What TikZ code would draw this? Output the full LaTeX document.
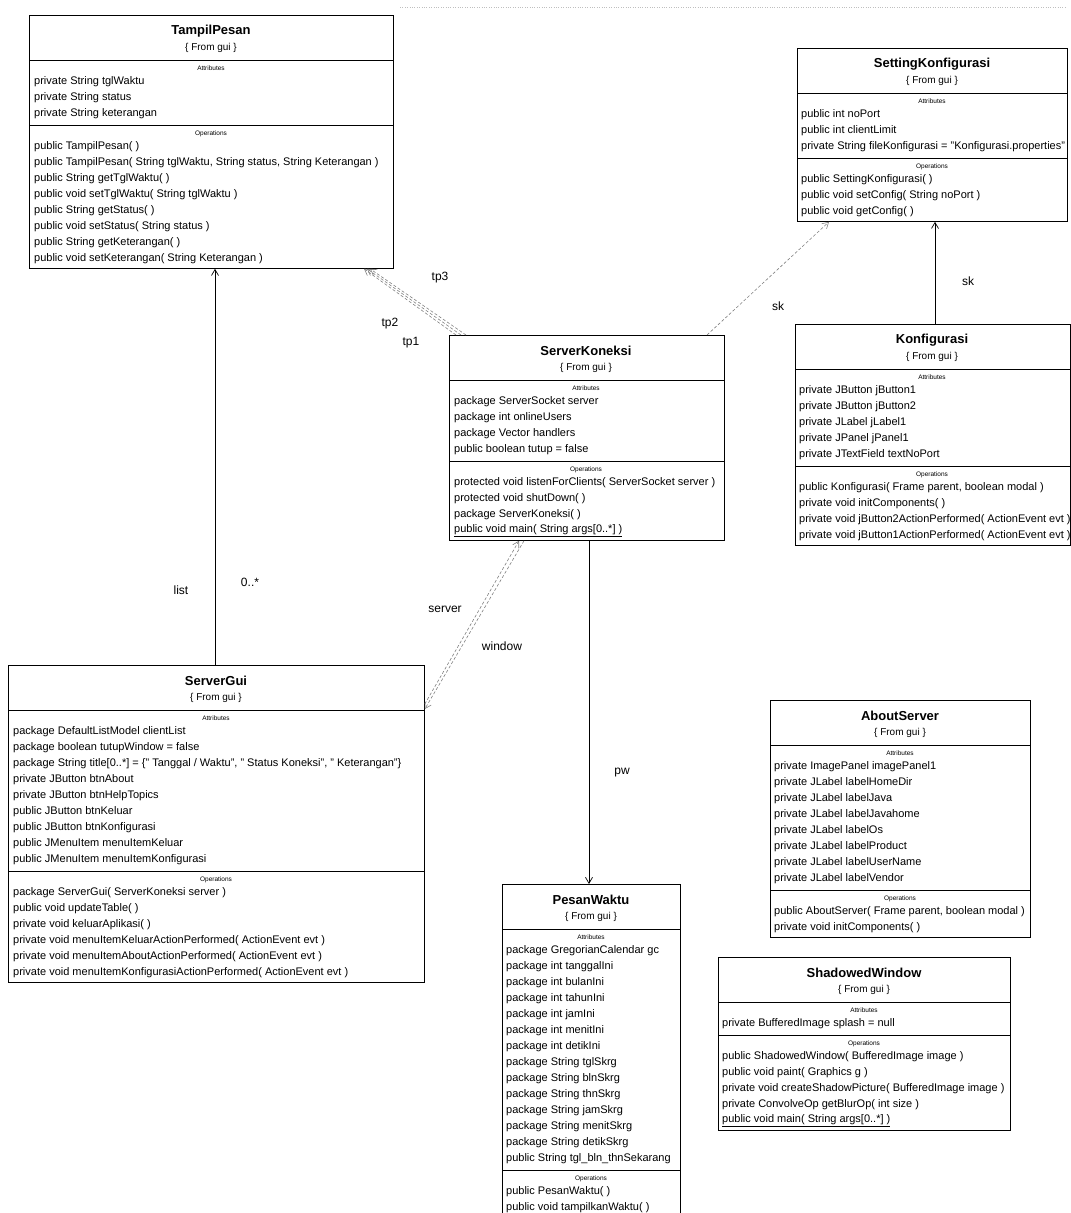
\documentclass[tikz,border=0pt]{standalone}
\usepackage{fontspec}
\setmainfont{Liberation Sans}
\usetikzlibrary{arrows.meta}

\begin{document}
\begin{tikzpicture}[x=1pt, y=-1pt, >={Straight Barb[length=6pt,width=7pt]},
	kelas/.style={draw, line width=0.8pt, anchor=north west, inner sep=0pt},
	sekat/.style={line width=0.6pt},
	judul/.style={font=\bfseries\fontsize{13}{15}\selectfont, inner sep=0pt},
	asal/.style={font=\fontsize{10}{12}\selectfont, inner sep=0pt},
	bagian/.style={font=\fontsize{6.5}{8}\selectfont, inner sep=0pt},
	baris/.style={font=\fontsize{11}{13}\selectfont, anchor=west, inner sep=0pt},
	peran/.style={font=\fontsize{12}{14}\selectfont, inner sep=0pt},
	asosiasi/.style={line width=0.7pt},
	putus/.style={line width=0.6pt, gray, dash pattern=on 3pt off 2pt}]
	\useasboundingbox (0,0) rectangle (1071,1213);
	\clip (0,0) rectangle (1071,1213);
	
	% garis tipis di tepi atas (hasil scan)
	\draw[gray!50, dotted] (400,7) -- (1065,7);
	
	% TampilPesan
	\node[kelas, minimum width=364pt, minimum height=253pt] (tp) at (29,15) {};
	\node[judul] (tp-n) at (211,31) {TampilPesan};
	\node[asal] (tp-g) at (211,48) {\{ From gui \}};
	\draw[sekat] (29,60) -- (393,60);
	\node[bagian] (tp-ba) at (211,68) {Attributes};
	\node[baris] (tp-a1) at (34,82) {private String tglWaktu};
	\node[baris] (tp-a2) at (34,98) {private String status};
	\node[baris] (tp-a3) at (34,114) {private String keterangan};
	\draw[sekat] (29,125) -- (393,125);
	\node[bagian] (tp-bo) at (211,134) {Operations};
	\node[baris] (tp-o1) at (34,147) {public TampilPesan( )};
	\node[baris] (tp-o2) at (34,163) {public TampilPesan( String tglWaktu, String status, String Keterangan )};
	\node[baris] (tp-o3) at (34,179) {public String getTglWaktu( )};
	\node[baris] (tp-o4) at (34,195) {public void setTglWaktu( String tglWaktu )};
	\node[baris] (tp-o5) at (34,211) {public String getStatus( )};
	\node[baris] (tp-o6) at (34,227) {public void setStatus( String status )};
	\node[baris] (tp-o7) at (34,243) {public String getKeterangan( )};
	\node[baris] (tp-o8) at (34,259) {public void setKeterangan( String Keterangan )};
	
	% SettingKonfigurasi
	\node[kelas, minimum width=270pt, minimum height=173pt] (setk) at (797,48) {};
	\node[judul] (setk-n) at (932,64) {SettingKonfigurasi};
	\node[asal] (setk-g) at (932,81) {\{ From gui \}};
	\draw[sekat] (797,93) -- (1067,93);
	\node[bagian] (setk-ba) at (932,101) {Attributes};
	\node[baris] (setk-a1) at (801,115) {public int noPort};
	\node[baris] (setk-a2) at (801,131) {public int clientLimit};
	\node[baris] (setk-a3) at (801,147) {private String fileKonfigurasi = "Konfigurasi.properties"};
	\draw[sekat] (797,158) -- (1067,158);
	\node[bagian] (setk-bo) at (932,167) {Operations};
	\node[baris] (setk-o1) at (801,180) {public SettingKonfigurasi( )};
	\node[baris] (setk-o2) at (801,196) {public void setConfig( String noPort )};
	\node[baris] (setk-o3) at (801,212) {public void getConfig( )};
	
	% Konfigurasi
	\node[kelas, minimum width=275pt, minimum height=221pt] (konf) at (795,324) {};
	\node[judul] (konf-n) at (932,340) {Konfigurasi};
	\node[asal] (konf-g) at (932,357) {\{ From gui \}};
	\draw[sekat] (795,369) -- (1070,369);
	\node[bagian] (konf-ba) at (932,377) {Attributes};
	\node[baris] (konf-a1) at (799,391) {private JButton jButton1};
	\node[baris] (konf-a2) at (799,407) {private JButton jButton2};
	\node[baris] (konf-a3) at (799,423) {private JLabel jLabel1};
	\node[baris] (konf-a4) at (799,439) {private JPanel jPanel1};
	\node[baris] (konf-a5) at (799,455) {private JTextField textNoPort};
	\draw[sekat] (795,466) -- (1070,466);
	\node[bagian] (konf-bo) at (932,475) {Operations};
	\node[baris] (konf-o1) at (799,488) {public Konfigurasi( Frame parent, boolean modal )};
	\node[baris] (konf-o2) at (799,504) {private void initComponents( )};
	\node[baris] (konf-o3) at (799,520) {private void jButton2ActionPerformed( ActionEvent evt )};
	\node[baris] (konf-o4) at (799,536) {private void jButton1ActionPerformed( ActionEvent evt )};
	
	% ServerKoneksi
	\node[kelas, minimum width=275pt, minimum height=205pt] (skon) at (449,335) {};
	\node[judul] (skon-n) at (586,351) {ServerKoneksi};
	\node[asal] (skon-g) at (586,368) {\{ From gui \}};
	\draw[sekat] (449,380) -- (724,380);
	\node[bagian] (skon-ba) at (586,388) {Attributes};
	\node[baris] (skon-a1) at (454,402) {package ServerSocket server};
	\node[baris] (skon-a2) at (454,418) {package int onlineUsers};
	\node[baris] (skon-a3) at (454,434) {package Vector handlers};
	\node[baris] (skon-a4) at (454,450) {public boolean tutup = false};
	\draw[sekat] (449,461) -- (724,461);
	\node[bagian] (skon-bo) at (586,470) {Operations};
	\node[baris] (skon-o1) at (454,483) {protected void listenForClients( ServerSocket server )};
	\node[baris] (skon-o2) at (454,499) {protected void shutDown( )};
	\node[baris] (skon-o3) at (454,515) {package ServerKoneksi( )};
	\node[baris] (skon-o4) at (454,531) {\underline{public void main( String args[0..*] )}};
	
	% ServerGui
	\node[kelas, minimum width=416pt, minimum height=317pt] (sgui) at (8,665) {};
	\node[judul] (sgui-n) at (216,681) {ServerGui};
	\node[asal] (sgui-g) at (216,698) {\{ From gui \}};
	\draw[sekat] (8,710) -- (424,710);
	\node[bagian] (sgui-ba) at (216,718) {Attributes};
	\node[baris] (sgui-a1) at (13,732) {package DefaultListModel clientList};
	\node[baris] (sgui-a2) at (13,748) {package boolean tutupWindow = false};
	\node[baris] (sgui-a3) at (13,764) {package String title[0..*] = \{" Tanggal / Waktu", " Status Koneksi", " Keterangan"\}};
	\node[baris] (sgui-a4) at (13,780) {private JButton btnAbout};
	\node[baris] (sgui-a5) at (13,796) {private JButton btnHelpTopics};
	\node[baris] (sgui-a6) at (13,812) {public JButton btnKeluar};
	\node[baris] (sgui-a7) at (13,828) {public JButton btnKonfigurasi};
	\node[baris] (sgui-a8) at (13,844) {public JMenuItem menuItemKeluar};
	\node[baris] (sgui-a9) at (13,860) {public JMenuItem menuItemKonfigurasi};
	\draw[sekat] (8,871) -- (424,871);
	\node[bagian] (sgui-bo) at (216,880) {Operations};
	\node[baris] (sgui-o1) at (13,893) {package ServerGui( ServerKoneksi server )};
	\node[baris] (sgui-o2) at (13,909) {public void updateTable( )};
	\node[baris] (sgui-o3) at (13,925) {private void keluarAplikasi( )};
	\node[baris] (sgui-o4) at (13,941) {private void menuItemKeluarActionPerformed( ActionEvent evt )};
	\node[baris] (sgui-o5) at (13,957) {private void menuItemAboutActionPerformed( ActionEvent evt )};
	\node[baris] (sgui-o6) at (13,973) {private void menuItemKonfigurasiActionPerformed( ActionEvent evt )};
	
	% PesanWaktu
	\node[kelas, minimum width=178pt, minimum height=333pt] (pwak) at (502,884) {};
	\node[judul] (pwak-n) at (591,900) {PesanWaktu};
	\node[asal] (pwak-g) at (591,917) {\{ From gui \}};
	\draw[sekat] (502,929) -- (680,929);
	\node[bagian] (pwak-ba) at (591,937) {Attributes};
	\node[baris] (pwak-a1) at (506,951) {package GregorianCalendar gc};
	\node[baris] (pwak-a2) at (506,967) {package int tanggalIni};
	\node[baris] (pwak-a3) at (506,983) {package int bulanIni};
	\node[baris] (pwak-a4) at (506,999) {package int tahunIni};
	\node[baris] (pwak-a5) at (506,1015) {package int jamIni};
	\node[baris] (pwak-a6) at (506,1031) {package int menitIni};
	\node[baris] (pwak-a7) at (506,1047) {package int detikIni};
	\node[baris] (pwak-a8) at (506,1063) {package String tglSkrg};
	\node[baris] (pwak-a9) at (506,1079) {package String blnSkrg};
	\node[baris] (pwak-a10) at (506,1095) {package String thnSkrg};
	\node[baris] (pwak-a11) at (506,1111) {package String jamSkrg};
	\node[baris] (pwak-a12) at (506,1127) {package String menitSkrg};
	\node[baris] (pwak-a13) at (506,1143) {package String detikSkrg};
	\node[baris] (pwak-a14) at (506,1159) {public String tgl\_bln\_thnSekarang};
	\draw[sekat] (502,1170) -- (680,1170);
	\node[bagian] (pwak-bo) at (591,1179) {Operations};
	\node[baris] (pwak-o1) at (506,1192) {public PesanWaktu( )};
	\node[baris] (pwak-o2) at (506,1208) {public void tampilkanWaktu( )};
	
	% AboutServer
	\node[kelas, minimum width=260pt, minimum height=237pt] (about) at (770,700) {};
	\node[judul] (about-n) at (900,716) {AboutServer};
	\node[asal] (about-g) at (900,733) {\{ From gui \}};
	\draw[sekat] (770,745) -- (1030,745);
	\node[bagian] (about-ba) at (900,753) {Attributes};
	\node[baris] (about-a1) at (774,767) {private ImagePanel imagePanel1};
	\node[baris] (about-a2) at (774,783) {private JLabel labelHomeDir};
	\node[baris] (about-a3) at (774,799) {private JLabel labelJava};
	\node[baris] (about-a4) at (774,815) {private JLabel labelJavahome};
	\node[baris] (about-a5) at (774,831) {private JLabel labelOs};
	\node[baris] (about-a6) at (774,847) {private JLabel labelProduct};
	\node[baris] (about-a7) at (774,863) {private JLabel labelUserName};
	\node[baris] (about-a8) at (774,879) {private JLabel labelVendor};
	\draw[sekat] (770,890) -- (1030,890);
	\node[bagian] (about-bo) at (900,899) {Operations};
	\node[baris] (about-o1) at (774,912) {public AboutServer( Frame parent, boolean modal )};
	\node[baris] (about-o2) at (774,928) {private void initComponents( )};
	
	% ShadowedWindow
	\node[kelas, minimum width=292pt, minimum height=173pt] (shadow) at (718,957) {};
	\node[judul] (shadow-n) at (864,973) {ShadowedWindow};
	\node[asal] (shadow-g) at (864,990) {\{ From gui \}};
	\draw[sekat] (718,1002) -- (1010,1002);
	\node[bagian] (shadow-ba) at (864,1010) {Attributes};
	\node[baris] (shadow-a1) at (722,1024) {private BufferedImage splash = null};
	\draw[sekat] (718,1035) -- (1010,1035);
	\node[bagian] (shadow-bo) at (864,1044) {Operations};
	\node[baris] (shadow-o1) at (722,1057) {public ShadowedWindow( BufferedImage image )};
	\node[baris] (shadow-o2) at (722,1073) {public void paint( Graphics g )};
	\node[baris] (shadow-o3) at (722,1089) {private void createShadowPicture( BufferedImage image )};
	\node[baris] (shadow-o4) at (722,1105) {private ConvolveOp getBlurOp( int size )};
	\node[baris] (shadow-o5) at (722,1121) {\underline{public void main( String args[0..*] )}};
	
	% relasi
	\draw[asosiasi, ->] (sgui.north -| 215,0) -- (tp.south -| 215,0);
	\node[peran] (r-list) at (181,590) {list};
	\node[peran] (r-banyak) at (250,582) {0..*};
	
	\draw[putus, ->] (skon.north -| 456,0) -- (tp.south -| 364,0);
	\draw[putus, ->] (skon.north -| 461,0) -- (tp.south -| 367,0);
	\draw[putus, ->] (skon.north -| 466,0) -- (tp.south -| 370,0);
	\node[peran] (r-tp3) at (440,278) {tp3};
	\node[peran] (r-tp2) at (390,324) {tp2};
	\node[peran] (r-tp1) at (411,343) {tp1};
	
	\draw[putus, ->] (skon.north -| 707,0) -- (setk.south -| 829,0);
	\node[peran] (r-sk1) at (778,306) {sk};
	\draw[asosiasi, ->] (konf.north -| 935,0) -- (setk.south -| 935,0);
	\node[peran] (r-sk2) at (968,281) {sk};
	
	\draw[putus, ->] (sgui.east |- 0,704) -- (skon.south -| 519,0);
	\draw[putus, ->] (skon.south -| 524,0) -- (sgui.east |- 0,709);
	\node[peran] (r-server) at (445,609) {server};
	\node[peran] (r-window) at (502,646) {window};
	
	\draw[asosiasi, ->] (skon.south -| 589,0) -- (pwak.north -| 589,0);
	\node[peran] (r-pw) at (622,773) {pw};
\end{tikzpicture}
\end{document}
